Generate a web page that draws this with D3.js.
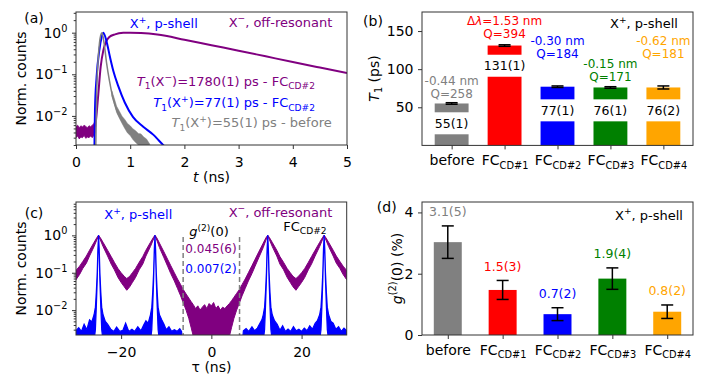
<!DOCTYPE html>
<html>
<head>
<meta charset="utf-8">
<script src="https://cdn.jsdelivr.net/npm/d3@7"></script>
<style>
  body { margin: 0; background: #fff; }
  svg { display: block; }
</style>
</head>
<body>
<svg id="fig" width="706" height="392"></svg>
<script>
// ---- (a) time-resolved PL, [t (ns), norm. counts] ----
var purpleDecay = [[0.355, 0.0055], [0.369, 0.0079], [0.412, 0.034], [0.455, 0.15], [0.504, 0.376],
    [0.554, 0.60], [0.615, 0.785], [0.72, 0.91], [0.873, 0.99], [1.0, 1.0], [1.2, 0.98], [1.5, 0.9],
    [2.0, 0.68], [2.5, 0.5], [3.0, 0.37], [3.5, 0.27], [4.0, 0.197], [4.5, 0.145], [5.0, 0.107]];
// [t, low, high] of the noisy background before the pulse
var purpleDecayNoise = [[0, 0.003, 0.0055], [0.03, 0.0033, 0.006], [0.06, 0.0028, 0.0052], [0.09, 0.0031, 0.0058],
    [0.12, 0.003, 0.0054], [0.15, 0.0034, 0.006], [0.18, 0.0029, 0.0056], [0.21, 0.0031, 0.0052],
    [0.24, 0.003, 0.0058], [0.27, 0.0033, 0.0055], [0.3, 0.003, 0.006], [0.33, 0.0034, 0.0065], [0.355, 0.004, 0.008]];
var blueDecay = [[0.338, 0.0012], [0.35, 0.0137], [0.38, 0.086], [0.43, 0.376], [0.474, 0.785], [0.504, 1.0],
    [0.566, 0.60], [0.627, 0.26], [0.689, 0.12], [0.78, 0.052], [0.9, 0.021], [1.05, 0.0095], [1.24, 0.0055],
    [1.43, 0.0035], [1.55, 0.0024], [1.66, 0.0017]];
var grayDecay = [[0.363, 0.0012], [0.381, 0.034], [0.412, 0.26], [0.455, 0.86], [0.48, 1.0], [0.52, 0.54],
    [0.566, 0.18], [0.615, 0.072], [0.677, 0.0285], [0.75, 0.0137], [0.843, 0.0079], [0.965, 0.0046],
    [1.12, 0.0029], [1.3, 0.0022], [1.38, 0.0015]];
var grayDecayNoise = [[0.66, 0.03, 0.04], [0.7, 0.021, 0.028], [0.75, 0.012, 0.017], [0.8, 0.0088, 0.013],
    [0.85, 0.0066, 0.0098], [0.9, 0.005, 0.0082], [0.95, 0.0039, 0.0066], [1.0, 0.0034, 0.0058],
    [1.05, 0.0027, 0.0049], [1.1, 0.0023, 0.0044], [1.15, 0.002, 0.0038], [1.2, 0.0017, 0.0037],
    [1.25, 0.0015, 0.0031], [1.3, 0.0014, 0.0028], [1.36, 0.0014, 0.0021]];

// ---- (c) correlation histograms, [tau (ns), low, high] ----
var purpleCorr = [[-30, 0.065, 0.115], [-29.2, 0.09, 0.15], [-28.5, 0.13, 0.2], [-27.7, 0.18, 0.28],
    [-27, 0.28, 0.4], [-26, 0.5, 0.65], [-25.4, 0.75, 0.86], [-25, 0.96, 1.01], [-24.6, 0.75, 0.86],
    [-24, 0.5, 0.65], [-23, 0.28, 0.4], [-22.2, 0.17, 0.27], [-21.5, 0.12, 0.19], [-20.7, 0.075, 0.13],
    [-20, 0.055, 0.1], [-19.3, 0.042, 0.08], [-18.75, 0.034, 0.07], [-18.1, 0.042, 0.08],
    [-17.5, 0.055, 0.1], [-16.8, 0.075, 0.13], [-16, 0.12, 0.19], [-15.2, 0.17, 0.27], [-14.5, 0.28, 0.4],
    [-13.5, 0.5, 0.65], [-12.9, 0.75, 0.86], [-12.5, 0.96, 1.01], [-12.1, 0.75, 0.86], [-11.5, 0.47, 0.62],
    [-10.5, 0.25, 0.36], [-9.7, 0.15, 0.23], [-9, 0.095, 0.155], [-8.2, 0.06, 0.1], [-7.5, 0.038, 0.068],
    [-6.8, 0.024, 0.048], [-6.25, 0.016, 0.036], [-5.6, 0.01, 0.027], [-5, 0.006, 0.021], [-4.5, 0.0035, 0.017],
    [-4, 0.002, 0.014], [-3.5, 0.0013, 0.011], [-3, 0.0016, 0.013], [-2.5, 0.0012, 0.01], [-2, 0.0015, 0.012],
    [-1.5, 0.0012, 0.014], [-1, 0.0016, 0.011], [-0.5, 0.0012, 0.015], [0, 0.0014, 0.013], [0.5, 0.0012, 0.016],
    [1, 0.0016, 0.011], [1.5, 0.0012, 0.013], [2, 0.0015, 0.01], [2.5, 0.0012, 0.012], [3, 0.0016, 0.011],
    [3.5, 0.0015, 0.013], [4, 0.002, 0.015], [4.5, 0.0035, 0.018], [5, 0.006, 0.022], [5.6, 0.01, 0.028],
    [6.25, 0.016, 0.036], [6.8, 0.024, 0.048], [7.5, 0.038, 0.068], [8.2, 0.06, 0.1], [9, 0.095, 0.155],
    [9.7, 0.15, 0.23], [10.5, 0.25, 0.36], [11.5, 0.47, 0.62], [12.1, 0.75, 0.86], [12.5, 0.96, 1.01],
    [12.9, 0.75, 0.86], [13.5, 0.5, 0.65], [14.5, 0.28, 0.4], [15.2, 0.17, 0.27], [16, 0.12, 0.19],
    [16.8, 0.075, 0.13], [17.5, 0.055, 0.1], [18.1, 0.042, 0.08], [18.75, 0.034, 0.07], [19.3, 0.042, 0.08],
    [20, 0.055, 0.1], [20.7, 0.075, 0.13], [21.5, 0.12, 0.19], [22.2, 0.17, 0.27], [23, 0.28, 0.4],
    [24, 0.5, 0.65], [24.6, 0.75, 0.86], [25, 0.96, 1.01], [25.4, 0.75, 0.86], [26, 0.5, 0.65],
    [27, 0.28, 0.4], [27.7, 0.18, 0.28], [28.5, 0.13, 0.2], [29.2, 0.09, 0.15], [30, 0.065, 0.115]];
var blueCorr = [[-30, 0.001, 0.0028], [-29.4, 0.001, 0.0034], [-28.8, 0.001, 0.0027], [-28.2, 0.001, 0.0042],
    [-27.6, 0.001, 0.003], [-27, 0.001, 0.0055], [-26.5, 0.001, 0.0048], [-26, 0.0015, 0.0075],
    [-25.7, 0.003, 0.012], [-25.5, 0.012, 0.03], [-25.3, 0.06, 0.1], [-25.15, 0.3, 0.42], [-25, 0.96, 1.02],
    [-24.85, 0.3, 0.42], [-24.7, 0.06, 0.1], [-24.5, 0.012, 0.03], [-24.3, 0.003, 0.012], [-24, 0.0015, 0.0075],
    [-23.5, 0.001, 0.005], [-23, 0.001, 0.0042], [-22.3, 0.001, 0.0031], [-21.6, 0.001, 0.0027],
    [-21, 0.001, 0.0035], [-20.3, 0.001, 0.0027], [-19.6, 0.001, 0.0029], [-19, 0.001, 0.0045],
    [-18.3, 0.001, 0.0027], [-17.6, 0.001, 0.0031], [-17, 0.001, 0.0027], [-16.3, 0.001, 0.0036],
    [-15.6, 0.001, 0.0028], [-15, 0.001, 0.004], [-14.5, 0.001, 0.0052], [-14, 0.001, 0.0045],
    [-13.5, 0.0015, 0.0075], [-13.2, 0.003, 0.012], [-13, 0.012, 0.03], [-12.8, 0.06, 0.1],
    [-12.65, 0.3, 0.42], [-12.5, 0.96, 1.02], [-12.35, 0.3, 0.42], [-12.2, 0.06, 0.1], [-12, 0.012, 0.03],
    [-11.8, 0.003, 0.012], [-11.5, 0.0015, 0.0075], [-11, 0.001, 0.0055], [-10.5, 0.001, 0.0042],
    [-10, 0.001, 0.003], [-9.4, 0.001, 0.0036], [-8.8, 0.001, 0.0027], [-8.2, 0.001, 0.003],
    [-7.6, 0.001, 0.0027], [-7, 0.001, 0.0032], [-6.6, 0.001, 0.0027], [-6.3, 0.001, 0.001],
    [6.8, 0.001, 0.001], [7.1, 0.001, 0.0028], [7.7, 0.001, 0.0032], [8.3, 0.001, 0.0027], [9, 0.001, 0.0036],
    [9.6, 0.001, 0.0028], [10.2, 0.001, 0.0033], [10.8, 0.001, 0.0045], [11.2, 0.001, 0.0055],
    [11.5, 0.0015, 0.0075], [11.8, 0.003, 0.012], [12, 0.012, 0.03], [12.2, 0.06, 0.1], [12.35, 0.3, 0.42],
    [12.5, 0.96, 1.02], [12.65, 0.3, 0.42], [12.8, 0.06, 0.1], [13, 0.012, 0.03], [13.2, 0.003, 0.012],
    [13.5, 0.0015, 0.0075], [14, 0.001, 0.0052], [14.6, 0.001, 0.0042], [15.2, 0.001, 0.0029],
    [15.8, 0.001, 0.0038], [16.4, 0.001, 0.0027], [17, 0.001, 0.0031], [17.6, 0.001, 0.0027],
    [18.2, 0.001, 0.0036], [18.8, 0.001, 0.0028], [19.4, 0.001, 0.0031], [20, 0.001, 0.0027],
    [20.6, 0.001, 0.0033], [21.2, 0.001, 0.0028], [21.8, 0.001, 0.0038], [22.4, 0.001, 0.0031],
    [23, 0.001, 0.0044], [23.5, 0.001, 0.0052], [24, 0.0015, 0.0075], [24.3, 0.003, 0.012],
    [24.5, 0.012, 0.03], [24.7, 0.06, 0.1], [24.85, 0.3, 0.42], [25, 0.96, 1.02], [25.15, 0.3, 0.42],
    [25.3, 0.06, 0.1], [25.5, 0.012, 0.03], [25.7, 0.003, 0.012], [26, 0.0015, 0.0075], [26.5, 0.001, 0.005],
    [27, 0.001, 0.0045], [27.6, 0.001, 0.0031], [28.2, 0.001, 0.0036], [28.8, 0.001, 0.0027],
    [29.4, 0.001, 0.0033], [30, 0.001, 0.0028]];
var windowEdges = [-6.25, 6.25];

// ---- (b), (d) bar charts ----
var categories = ['before', 'FC_{CD#1}', 'FC_{CD#2}', 'FC_{CD#3}', 'FC_{CD#4}'];
var t1Values = [55, 131, 77, 76, 76];
var t1Errors = [1, 1, 1, 1, 2];
var t1Labels = ['55(1)', '131(1)', '77(1)', '76(1)', '76(2)'];
var detunings = ['-0.44 nm', '\u0394*\u03bb*=1.53 nm', '-0.30 nm', '-0.15 nm', '-0.62 nm'];
var qFactors = ['Q=258', 'Q=394', 'Q=184', 'Q=171', 'Q=181'];
var g2Values = [3.03, 1.47, 0.68, 1.84, 0.76];
var g2Errors = [0.53, 0.31, 0.21, 0.35, 0.22];
var g2Labels = ['3.1(5)', '1.5(3)', '0.7(2)', '1.9(4)', '0.8(2)'];

// where the annotations sit, in T1 units
var t1LabelAt = [29, 104.5, 46, 46, 46];
var noteAt = [84.5, 163.6, 138, 107.7, 138];

var FONT = '"DejaVu Sans", sans-serif',
    AX = '#333',
    PURPLE = '#800080', BLUE = '#0000ff', GRAY = '#808080',
    barColors = ['#808080', '#ff0000', '#0000ff', '#008000', '#ffa500'];

var svg = d3.select('#fig').attr('font-family', FONT);
var defs = svg.append('defs');

// tiny markup: _{sub} ^{sup} *italic*
function rich(text, str, size) {
    var parts = str.split(/(_\{[^}]*\}|\^\{[^}]*\}|\*[^*]+\*)/),
        shift = 0;
    parts.forEach(function(p) {
        if (!p) return;
        var ts = text.append('tspan'), s = 0, fs = size, content = p;
        if (p.indexOf('_{') === 0) {
            s = size * 0.24; fs = size * 0.7; content = p.slice(2, -1);
        } else if (p.indexOf('^{') === 0) {
            s = -size * 0.42; fs = size * 0.7; content = p.slice(2, -1);
        } else if (p[0] === '*') {
            content = p.slice(1, -1);
            ts.attr('font-style', 'italic');
        }
        // leave dy unset when nothing moves, so the parent's dy still applies
        if (s !== shift) ts.attr('dy', s - shift);
        ts.attr('font-size', fs).text(content);
        shift = s;
    });
    return text;
}

function label(g, x, y, str, size, color, anchor) {
    var t = g.append('text').attr('x', x).attr('y', y)
        .attr('fill', color || '#000')
        .attr('text-anchor', anchor || 'middle')
        .attr('font-size', size);
    return rich(t, str, size);
}

function styleAxis(g, size) {
    g.attr('font-family', FONT).attr('font-size', size || 14);
    g.select('.domain').remove();
    g.selectAll('.tick line').attr('stroke', AX);
    g.selectAll('.tick text').attr('fill', '#000');
}

function richTicks(g, fmt, size) {
    g.selectAll('.tick text').each(function(d) {
        var t = d3.select(this);
        t.text(null);
        rich(t, fmt(d), size);
    });
}

function logFmt(d) {
    var e = Math.round(Math.log10(d));
    return '10^{' + (e < 0 ? '\u2212' + (-e) : e) + '}';
}

function frame(g, x, y) {
    g.append('rect')
        .attr('x', x.range()[0]).attr('y', y.range()[1])
        .attr('width', x.range()[1] - x.range()[0])
        .attr('height', y.range()[0] - y.range()[1])
        .attr('fill', 'none').attr('stroke', AX).attr('stroke-width', 1);
}

function logAxes(g, x, y, xTicks, xFmt) {
    var left = x.range()[0], bottom = y.range()[0];
    var majors = [0.01, 0.1, 1],
        minors = y.ticks().filter(function(d) {
            return Math.abs(Math.log10(d) - Math.round(Math.log10(d))) > 1e-6;
        });

    g.append('g').attr('transform', 'translate(' + left + ',0)')
        .call(d3.axisLeft(y).tickValues(minors).tickSize(2.3).tickFormat(''))
        .call(styleAxis);
    var ya = g.append('g').attr('transform', 'translate(' + left + ',0)')
        .call(d3.axisLeft(y).tickValues(majors).tickSize(4).tickPadding(4.5).tickSizeOuter(0))
        .call(styleAxis);
    richTicks(ya, logFmt, 14);

    var xa = g.append('g').attr('transform', 'translate(0,' + bottom + ')')
        .call(d3.axisBottom(x).tickValues(xTicks).tickSize(4).tickPadding(7.8).tickSizeOuter(0))
        .call(styleAxis);
    richTicks(xa, xFmt, 14);
}

function clipFor(id, x, y) {
    defs.append('clipPath').attr('id', id).append('rect')
        .attr('x', x.range()[0]).attr('y', y.range()[1])
        .attr('width', x.range()[1] - x.range()[0])
        .attr('height', y.range()[0] - y.range()[1]);
    return 'url(#' + id + ')';
}

function drawDecay() {
    var x = d3.scaleLinear().domain([0, 5]).range([76, 347]),
        y = d3.scaleLog().domain([0.002, 3.14]).range([145, 12]),
        g = svg.append('g');

    var plot = g.append('g').attr('clip-path', clipFor('clipA', x, y));
    var line = d3.line().x(function(d) { return x(d[0]); }).y(function(d) { return y(d[1]); })
            .curve(d3.curveMonotoneX),
        band = d3.area().x(function(d) { return x(d[0]); })
            .y0(function(d) { return y(d[1]); }).y1(function(d) { return y(d[2]); });

    plot.append('path').datum(purpleDecayNoise).attr('d', band)
        .attr('fill', PURPLE).attr('stroke', PURPLE).attr('stroke-width', 0.8);
    plot.append('path').datum(purpleDecay).attr('d', line)
        .attr('fill', 'none').attr('stroke', PURPLE).attr('stroke-width', 2);
    plot.append('path').datum(blueDecay).attr('d', line)
        .attr('fill', 'none').attr('stroke', BLUE).attr('stroke-width', 2);
    plot.append('path').datum(grayDecayNoise).attr('d', band)
        .attr('fill', GRAY).attr('stroke', GRAY).attr('stroke-width', 0.5);
    plot.append('path').datum(grayDecay).attr('d', line)
        .attr('fill', 'none').attr('stroke', GRAY).attr('stroke-width', 1.5);

    logAxes(g, x, y, [0, 1, 2, 3, 4, 5], function(d) { return String(d); });
    frame(g, x, y);

    label(g, 163.8, 28, 'X^{+}, p-shell', 13, BLUE);
    label(g, 280.5, 26.7, 'X^{\u2212}, off-resonant', 13, PURPLE);
    label(g, 315, 85.7, '*T*_{1}(X^{\u2212})=1780(1) ps - FC_{CD#2}', 13, PURPLE, 'end');
    label(g, 315, 107.4, '*T*_{1}(X^{+})=77(1) ps - FC_{CD#2}', 13, BLUE, 'end');
    label(g, 331.7, 127.4, '*T*_{1}(X^{+})=55(1) ps - before', 13, GRAY, 'end');

    label(g, 211.5, 182, '*t* (ns)', 14);
    g.append('text').attr('transform', 'translate(26,78.5) rotate(-90)')
        .attr('text-anchor', 'middle').attr('font-size', 14).text('Norm. counts');
    label(g, 34, 23.3, '(a)', 14);
}

function drawCorrelation() {
    var x = d3.scaleLinear().domain([-30, 30]).range([76, 346.7]),
        y = d3.scaleLog().domain([0.00216, 7.8]).range([335, 202]),
        g = svg.append('g');

    var plot = g.append('g').attr('clip-path', clipFor('clipC', x, y));
    var band = d3.area().x(function(d) { return x(d[0]); })
        .y0(function(d) { return y(d[1]); }).y1(function(d) { return y(d[2]); });

    plot.append('path').datum(purpleCorr).attr('d', band)
        .attr('fill', PURPLE).attr('stroke', PURPLE).attr('stroke-width', 1);
    plot.append('path').datum(blueCorr).attr('d', band)
        .attr('fill', BLUE).attr('stroke', BLUE).attr('stroke-width', 1.2);

    plot.selectAll('line.window').data(windowEdges).enter().append('line')
        .attr('x1', function(d) { return x(d); }).attr('x2', function(d) { return x(d); })
        .attr('y1', y(0.9)).attr('y2', y.range()[0])
        .attr('stroke', GRAY).attr('stroke-width', 1.5).attr('stroke-dasharray', '5,3');

    logAxes(g, x, y, [-20, 0, 20], function(d) { return d < 0 ? '\u2212' + (-d) : String(d); });
    frame(g, x, y);

    label(g, 138.3, 219, 'X^{+}, p-shell', 13, BLUE);
    label(g, 280.5, 216.7, 'X^{\u2212}, off-resonant', 13, PURPLE);
    label(g, 283.3, 230.7, 'FC_{CD#2}', 13, '#000', 'start');
    label(g, 209, 236, '*g*^{(2)}(0)', 13);
    label(g, 211, 252.6, '0.045(6)', 12, PURPLE);
    label(g, 211, 273.3, '0.007(2)', 12, BLUE);

    label(g, 211.5, 372, '\u03c4 (ns)', 14);
    g.append('text').attr('transform', 'translate(26,268.5) rotate(-90)')
        .attr('text-anchor', 'middle').attr('font-size', 14).text('Norm. counts');
    label(g, 34, 217.5, '(c)', 14);
}

function barAxes(g, x, y, yTicks) {
    var left = x.range()[0], bottom = y.range()[0];
    g.append('g').attr('transform', 'translate(' + left + ',0)')
        .call(d3.axisLeft(y).tickValues(yTicks).tickSize(4).tickPadding(4.5).tickSizeOuter(0)
            .tickFormat(d3.format('d')))
        .call(styleAxis);
    var xa = g.append('g').attr('transform', 'translate(0,' + bottom + ')')
        .call(d3.axisBottom(x).tickValues(d3.range(categories.length)).tickSize(4).tickPadding(6).tickSizeOuter(0))
        .call(styleAxis);
    richTicks(xa, function(d) { return categories[d]; }, 14);
}

function errorBars(g, x, y, values, errors) {
    var cap = 6;
    values.forEach(function(v, i) {
        var cx = x(i), e = errors[i];
        g.append('line').attr('x1', cx).attr('x2', cx).attr('y1', y(v - e)).attr('y2', y(v + e))
            .attr('stroke', '#000').attr('stroke-width', 1.5);
        [v - e, v + e].forEach(function(w) {
            g.append('line').attr('x1', cx - cap).attr('x2', cx + cap).attr('y1', y(w)).attr('y2', y(w))
                .attr('stroke', '#000').attr('stroke-width', 1.5);
        });
    });
}

function drawT1Bars() {
    var x = d3.scaleLinear().domain([-0.56, 4.56]).range([422, 693]),
        y = d3.scaleLinear().domain([0, 175]).range([145.4, 12]),
        bw = x(0.32) - x(-0.32),
        g = svg.append('g');

    g.selectAll('rect.bar').data(t1Values).enter().append('rect')
        .attr('x', function(d, i) { return x(i) - bw / 2; })
        .attr('y', function(d) { return y(d); })
        .attr('width', bw)
        .attr('height', function(d) { return y(0) - y(d); })
        .attr('fill', function(d, i) { return barColors[i]; });

    // value labels sit in white boxes that cut the bars
    t1Labels.forEach(function(s, i) {
        var cy = y(t1LabelAt[i]);
        g.append('rect').attr('x', x(i) - bw / 2 - 4).attr('y', cy - 11)
            .attr('width', bw + 8).attr('height', 22).attr('fill', '#fff');
        label(g, x(i), cy + 4.4, s, 12.5);
    });

    errorBars(g, x, y, t1Values, t1Errors);

    detunings.forEach(function(s, i) {
        var cy = y(noteAt[i]);
        label(g, x(i), cy + 4.3, s, 12, barColors[i]);
        label(g, x(i), cy + 17.3, qFactors[i], 12, barColors[i]);
    });

    barAxes(g, x, y, [50, 100, 150]);
    frame(g, x, y);

    label(g, 644, 28, 'X^{+}, p-shell', 13);
    g.append('text').attr('transform', 'translate(379,78.5) rotate(-90)')
        .attr('text-anchor', 'middle').attr('font-size', 14)
        .call(function(t) { rich(t, '*T*_{1} (ps)', 14); });
    label(g, 373, 25.8, '(b)', 14);
}

function drawG2Bars() {
    var x = d3.scaleLinear().domain([-0.47, 4.47]).range([422, 693]),
        y = d3.scaleLinear().domain([0, 4.34]).range([335, 202]),
        bw = x(0.255) - x(-0.255),
        g = svg.append('g');

    g.selectAll('rect.bar').data(g2Values).enter().append('rect')
        .attr('x', function(d, i) { return x(i) - bw / 2; })
        .attr('y', function(d) { return y(d); })
        .attr('width', bw)
        .attr('height', function(d) { return y(0) - y(d); })
        .attr('fill', function(d, i) { return barColors[i]; });

    errorBars(g, x, y, g2Values, g2Errors);

    g2Labels.forEach(function(s, i) {
        label(g, x(i), y(g2Values[i] + g2Errors[i]) - 9.5, s, 12.5, barColors[i]);
    });

    barAxes(g, x, y, [0, 2, 4]);
    frame(g, x, y);

    label(g, 649, 219.7, 'X^{+}, p-shell', 13);
    g.append('text').attr('transform', 'translate(402,268.5) rotate(-90)')
        .attr('text-anchor', 'middle').attr('font-size', 14)
        .call(function(t) { rich(t, '*g*^{(2)}(0) (%)', 14); });
    label(g, 386.7, 211.7, '(d)', 14);
}

drawDecay();
drawT1Bars();
drawCorrelation();
drawG2Bars();
</script>
</body>
</html>
